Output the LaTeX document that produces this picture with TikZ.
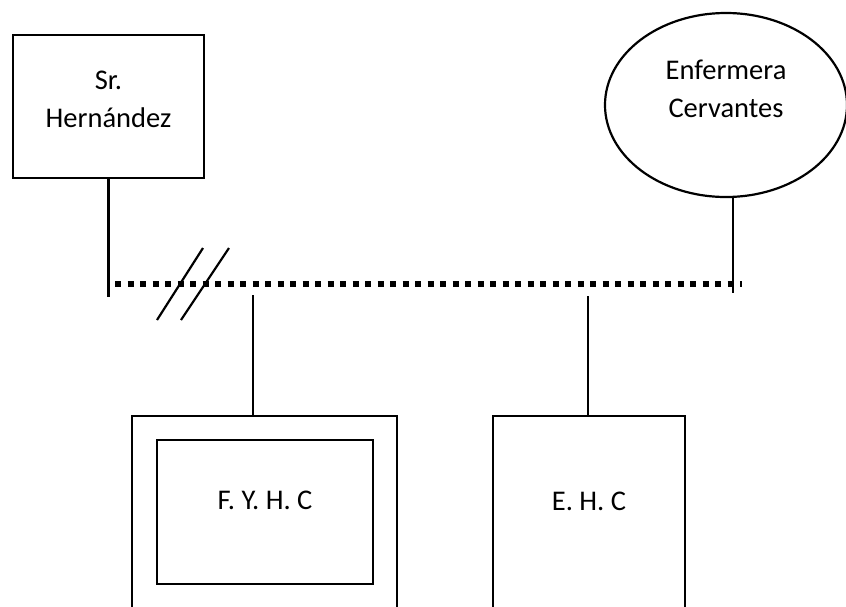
\documentclass[tikz,border=0pt]{standalone}
\usepackage{fontspec}
\setmainfont{Carlito}
\usetikzlibrary{shapes,positioning}

\begin{document}
\begin{tikzpicture}[x=1pt,y=-1pt,
	box/.style={draw,line width=2.5pt,inner sep=0pt},
	txt/.style={align=center,font=\fontsize{28.5}{37.5}\selectfont},
	tie/.style={line width=2.2pt},
	bus/.style={line width=5.5pt,dash pattern=on 6pt off 6.5pt}]
	\path[use as bounding box,clip] (0,0) rectangle (846,606);
	% top row
	\node (1) [box,minimum width=191pt,minimum height=143pt,label={[txt,yshift=7pt]center:Sr.\\Hernández}] at (108.5,106.5) {};
	\node (2) [box,ellipse,line width=2.2pt,minimum width=242pt,minimum height=184pt,label={[txt,yshift=16pt]center:Enfermera\\Cervantes}] at (726,105) {};
	% bottom row
	\node (3) [box,minimum width=265pt,minimum height=224pt] at (264.5,528) {};
	\node (4) [box,minimum width=216pt,minimum height=144pt,label={[txt,yshift=11.5pt]center:F. Y. H. C}] at (265,512) {};
	\node (5) [box,minimum width=192pt,minimum height=224pt,label={[txt,yshift=26.5pt]center:E. H. C}] at (589,528) {};

	\coordinate (a) at (108.5,297);
	\coordinate (b) at (733,293);
	\coordinate (c) at (115,284);
	\coordinate (d) at (742,284);
	\coordinate (e) at (253,295);
	\coordinate (f) at (588,296);

	\draw[bus] (c) -- (d);
	\draw[tie] (1) -- (a);
	\draw[tie] (b |- 2.south) -- (b);
	\draw[tie] (e) -- (e |- 3.north);
	\draw[tie] (f) -- (f |- 5.north);
	% broken tie
	\draw[tie] (157,320) -- (203,248);
	\draw[tie] (181,320) -- (229,248);
\end{tikzpicture}
\end{document}
